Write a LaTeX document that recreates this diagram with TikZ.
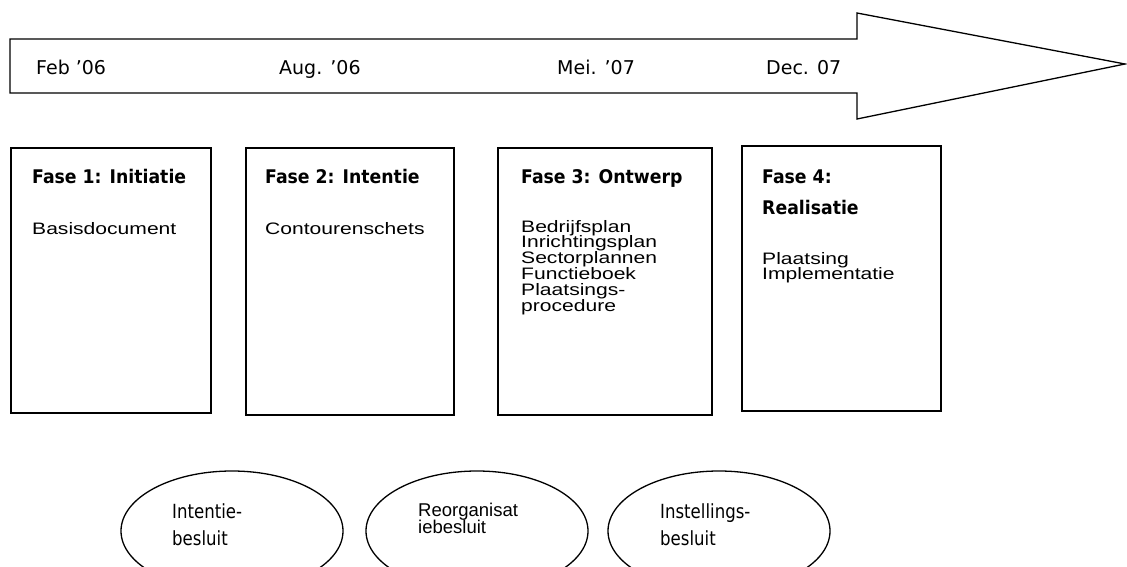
\documentclass[tikz,border=0pt]{standalone}
\usepackage{fontspec}
\newfontfamily\datefont{DejaVu Sans}
\newfontfamily\titlefont{DejaVu Sans}[FakeStretch=0.92]
\newfontfamily\bodyfont{Liberation Sans}[FakeStretch=1.27]
\newfontfamily\plainsans{Liberation Sans}
\newfontfamily\ellfont{DejaVu Sans}[FakeStretch=0.85]
\tikzset{
  phasebox/.style={draw=black, line width=1.6pt, fill=white, anchor=north west, inner sep=0pt},
  decision/.style={draw=black, line width=1.3pt, ellipse, inner sep=0pt},
  datelbl/.style={font=\datefont\fontsize{19}{22}\selectfont, anchor=base west, inner sep=0pt},
  phasetitle/.style={font=\titlefont\bfseries\fontsize{18.8}{22}\selectfont, anchor=base west, inner sep=0pt},
  bodytxt/.style={font=\bodyfont\fontsize{16.6}{16}\selectfont, anchor=base west, inner sep=0pt},
  elltxt/.style={font=\ellfont\fontsize{19.5}{22}\selectfont, anchor=base west, inner sep=0pt},
  elltxtb/.style={font=\plainsans\fontsize{18.5}{17}\selectfont, anchor=base west, inner sep=0pt},
}
\usetikzlibrary{shapes.geometric}
\begin{document}
\begin{tikzpicture}[x=1pt, y=-1pt]
\clip (0,0) rectangle (1127,567);
\fill[white] (0,0) rectangle (1127,567);
% timeline arrow
\draw[line width=1.3pt, line join=miter, miter limit=20] (10,39) -- (857,39) -- (857,13) -- (1125,64) -- (857,119) -- (857,93) -- (10,93) -- cycle;
\node[datelbl] (d1) at (36,75) {Feb ’06};
\node[datelbl] (d2) at (279,75) {Aug. ’06};
\node[datelbl] (d3) at (557,75) {Mei. ’07};
\node[datelbl] (d4) at (766,75) {Dec. 07};
% phase boxes
\node[phasebox, minimum width=200pt, minimum height=265pt] (b1) at (10,147) {};
\node[phasebox, minimum width=208pt, minimum height=267pt] (b2) at (245,147) {};
\node[phasebox, minimum width=214pt, minimum height=267pt] (b3) at (497,147) {};
\node[phasebox, minimum width=199pt, minimum height=265pt] (b4) at (741,145) {};
% box 1
\node[phasetitle] (t1) at (32,183) {Fase 1: Initiatie};
\node[bodytxt] (p1) at (32,234) {Basisdocument};
% box 2
\node[phasetitle] (t2) at (265,183) {Fase 2: Intentie};
\node[bodytxt] (p2) at (265,234) {Contourenschets};
% box 3
\node[phasetitle] (t3) at (521,183) {Fase 3: Ontwerp};
\node[bodytxt] (p3a) at (521,232) {Bedrijfsplan};
\node[bodytxt] (p3b) at (521,247.8) {Inrichtingsplan};
\node[bodytxt] (p3c) at (521,263.6) {Sectorplannen};
\node[bodytxt] (p3d) at (521,279.4) {Functieboek};
\node[bodytxt] (p3e) at (521,295.2) {Plaatsings-};
\node[bodytxt] (p3f) at (521,311) {procedure};
% box 4
\node[phasetitle] (t4a) at (762,183) {Fase 4:};
\node[phasetitle] (t4b) at (762,214) {Realisatie};
\node[bodytxt] (p4a) at (762,264) {Plaatsing};
\node[bodytxt] (p4b) at (762,279.8) {Implementatie};
% decision ellipses
\node[decision, minimum width=222pt, minimum height=120pt] (e1) at (232,531) {};
\node[decision, minimum width=222pt, minimum height=120pt] (e2) at (477,531) {};
\node[decision, minimum width=222pt, minimum height=120pt] (e3) at (719,531) {};
\node[elltxt] (e1a) at (172,518) {Intentie-};
\node[elltxt] (e1b) at (172,545) {besluit};
\node[elltxtb] (e2a) at (418,516) {Reorganisat};
\node[elltxtb] (e2b) at (418,533) {iebesluit};
\node[elltxt] (e3a) at (660,518) {Instellings-};
\node[elltxt] (e3b) at (660,545) {besluit};
\end{tikzpicture}
\end{document}
